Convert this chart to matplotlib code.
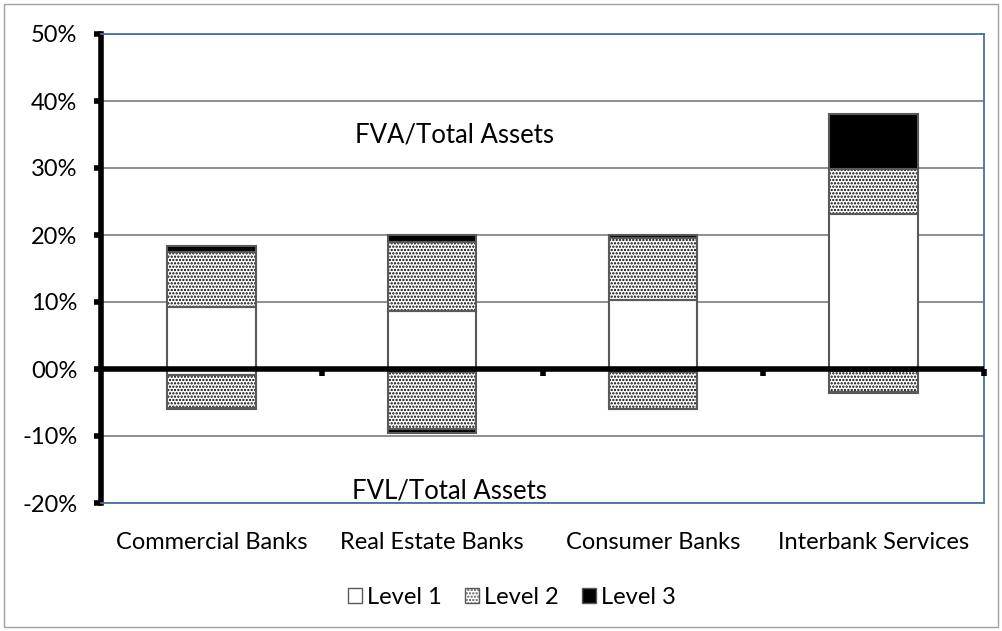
import matplotlib
matplotlib.use("Agg")
import matplotlib.pyplot as plt
from matplotlib.patches import Rectangle, Patch
from matplotlib.ticker import FuncFormatter
import numpy as np

categories = ["Commercial Banks", "Real Estate Banks", "Consumer Banks", "Interbank Services"]
levels = ["Level 1", "Level 2", "Level 3"]
# FVA / Total Assets (positive side), percent
fva_level1 = [9.3, 8.6, 10.3, 23.2]
fva_level2 = [8.2, 10.3, 9.2, 6.6]
fva_level3 = [0.8, 1.1, 0.5, 8.2]
# FVL / Total Assets (negative side), percent
fvl_level1 = [-0.9, -0.5, -0.5, -0.3]
fvl_level2 = [-4.9, -8.4, -5.4, -3.2]
fvl_level3 = [-0.1, -0.6, -0.1, -0.1]

plt.rcParams['font.family'] = ['Lato', 'DejaVu Sans']
plt.rcParams['hatch.linewidth'] = 1.1

fig = plt.figure(figsize=(10.02, 6.31), dpi=100)
ax = fig.add_axes([101/1002, 1 - 503/631, (984-101)/1002, (503-34)/631])

x = np.arange(len(categories))
width = 0.4
edge = '#595959'

def stack(series_list):
    bottom = np.zeros(len(categories))
    for i, vals in enumerate(series_list):
        vals = np.array(vals, dtype=float)
        if i == 0:
            ax.bar(x, vals, width, bottom=bottom, color='white', edgecolor=edge, linewidth=1.5, zorder=3)
        elif i == 1:
            ax.bar(x, vals, width, bottom=bottom, color='white', edgecolor='black', hatch='.....', linewidth=0, zorder=3)
            ax.bar(x, vals, width, bottom=bottom, color='none', edgecolor=edge, linewidth=1.5, zorder=4)
        else:
            ax.bar(x, vals, width, bottom=bottom, color='black', edgecolor=edge, linewidth=1.5, zorder=3)
        bottom = bottom + vals

stack([fva_level1, fva_level2, fva_level3])
stack([fvl_level1, fvl_level2, fvl_level3])

ax.set_xlim(-0.5, len(categories) - 0.5)
ax.set_ylim(-20, 50)
ax.set_yticks(np.arange(-20, 51, 10))
ax.yaxis.set_major_formatter(FuncFormatter(lambda v, p: "00%" if v == 0 else f"{int(v)}%"))
ax.grid(axis='y', color='#868686', linewidth=1.3, zorder=1)
ax.set_axisbelow(True)

for s in ['top', 'right', 'bottom']:
    ax.spines[s].set_color('#4a6fa5')
    ax.spines[s].set_linewidth(1.3)
ax.spines['left'].set_color('black')
ax.spines['left'].set_linewidth(4)
ax.tick_params(axis='y', length=5, width=4, color='black', labelsize=17, pad=12)
ax.tick_params(axis='x', length=0, labelsize=17, pad=21)
ax.set_xticks(x)
ax.set_xticklabels(categories)

# thick zero axis with tick marks at category boundaries
ax.axhline(0, color='black', linewidth=4, zorder=5)
for b in np.arange(0.5, len(categories), 1):
    ax.plot([b, b], [0, -1.0], color='black', linewidth=4, solid_capstyle='butt', zorder=5, clip_on=False)

ax.text(1.1, 35, "FVA/Total Assets", ha='center', va='center', fontsize=18.5, zorder=6)
ax.text(1.08, -18.2, "FVL/Total Assets", ha='center', va='center', fontsize=18.5, zorder=6)

handles = [Patch(facecolor='white', edgecolor=edge, linewidth=1),
           Patch(facecolor='white', edgecolor=edge, hatch='.....', linewidth=1),
           Patch(facecolor='black', edgecolor=edge, linewidth=1)]
fig.legend(handles, levels, loc='center', bbox_to_anchor=(512/1002, 1 - 597/631), ncol=3,
           frameon=False, fontsize=17, handlelength=0.6, handleheight=0.6,
           handletextpad=0.2, columnspacing=1.0)

fig.patches.append(Rectangle((4/1002, 4/631), 994/1002, 623/631, transform=fig.transFigure,
                             fill=False, edgecolor='#a0a0a0', linewidth=1))

fig.savefig("out.png", dpi=100)
